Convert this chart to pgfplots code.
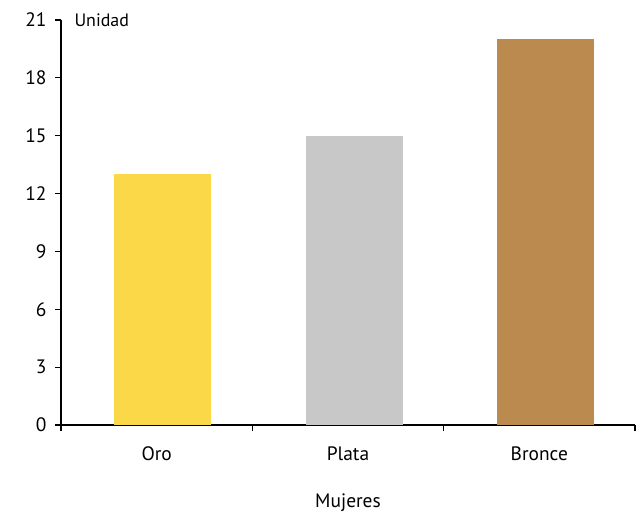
\documentclass[border=0pt]{standalone}
\usepackage{pgfplots}
\pgfplotsset{compat=1.18}
\usepackage{fontspec}
\setmainfont{PT Sans}
\definecolor{oro}{RGB}{250,216,72}
\definecolor{plata}{RGB}{200,200,200}
\definecolor{bronce}{RGB}{186,138,78}
\begin{document}
\begin{tikzpicture}
\begin{axis}[
  scale only axis,
  width=574bp, height=405bp,
  xmin=-0.5, xmax=2.5,
  ymin=0, ymax=21,
  ytick={0,3,...,21},
  xtick={0,1,2},
  xticklabels={Oro,Plata,Bronce},
  minor xtick={-0.5,0.5,1.5,2.5},
  axis x line*=bottom,
  axis y line*=left,
  axis line style={line width=2.2pt, -},
  every tick/.style={black, line width=1.2pt},
  major x tick style={draw=none},
  xtick align=outside, ytick align=outside,
  major tick length=6bp, minor tick length=6bp,
  tick label style={font=\fontsize{19.5}{22}\selectfont},
  /pgf/number format/assume math mode=true,
  xticklabel style={yshift=-12bp},
  yticklabel style={xshift=-5bp},
  xlabel={Mujeres},
  xlabel style={font=\fontsize{19.5}{22}\selectfont, yshift=-26bp},
  clip=false,
]
\addplot[ybar, bar width=97bp, bar shift=6bp, fill=oro, draw=none] coordinates {(0,13)};
\addplot[ybar, bar width=97bp, bar shift=6bp, fill=plata, draw=none] coordinates {(1,15)};
\addplot[ybar, bar width=97bp, bar shift=6bp, fill=bronce, draw=none] coordinates {(2,20)};
\node[anchor=west, font=\fontsize{18}{21}\selectfont] at (rel axis cs:0,1) [xshift=10bp] {Unidad};
\end{axis}
\useasboundingbox (-61bp,-89bp) rectangle (582bp,425bp);
\end{tikzpicture}
\end{document}
